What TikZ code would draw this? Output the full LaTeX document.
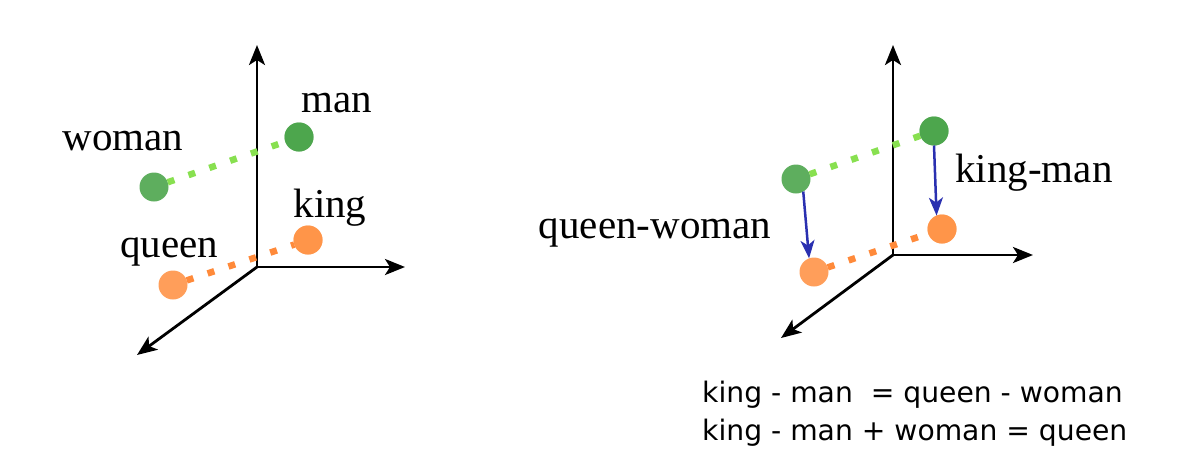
\documentclass[tikz,border=0pt]{standalone}
\usepackage{fontspec}
\setmainfont{Liberation Serif}
\newfontfamily\eqfont{DejaVu Sans}
\usetikzlibrary{arrows.meta}
\definecolor{dotgreen}{HTML}{4CA54C}
\definecolor{linegreen}{HTML}{88E050}
\definecolor{dotorange}{HTML}{FF9448}
\definecolor{lineorange}{HTML}{FF8A3A}
\definecolor{vecblue}{HTML}{2A30B0}
\tikzset{
  axisline/.style={line width=2.8pt, -{Stealth[length=20pt,width=16pt,inset=5pt]}},
  gdot/.style={circle, fill=dotgreen, fill opacity=0.9, minimum size=29pt, inner sep=0pt, outer sep=0pt},
  odot/.style={circle, fill=dotorange, fill opacity=0.9, minimum size=29pt, inner sep=0pt, outer sep=0pt},
  gline/.style={draw=linegreen, line width=6.5pt, dash pattern=on 7pt off 15pt},
  oline/.style={draw=lineorange, line width=6.5pt, dash pattern=on 7pt off 15pt},
  vec/.style={draw=vecblue, line width=2.5pt, -{Stealth[length=18pt,width=14pt,inset=5pt]}},
  word/.style={font=\fontsize{41}{48}\selectfont, inner sep=0pt, anchor=base},
  eq/.style={font=\eqfont\fontsize{28.2}{38}\selectfont, inner sep=0pt, anchor=base west}
}
\begin{document}
\begin{tikzpicture}[x=1pt,y=-1pt]
\useasboundingbox (0,0) rectangle (1201,474);
% ---------- left diagram ----------
\coordinate (lo) at (257,267);
\coordinate (ly) at (257,45);
\coordinate (lx) at (405,267);
\coordinate (lz) at (137,355);
\draw[axisline] (lo) -- (ly);
\draw[axisline] (lo) -- (lx);
\draw[axisline] (lo) -- (lz);
\node[gdot] (man) at (299,137) {};
\node[gdot] (woman) at (154,187) {};
\node[odot] (king) at (308,240) {};
\node[odot] (queen) at (173,285) {};
\draw[gline] (woman) -- (man);
\draw[oline] (queen) -- (king);
\node[gdot] at (man) {};
\node[odot] at (king) {};
\node[word] (tman) at (337,112) {man};
\node[word] (twoman) at (123,150) {woman};
\node[word] (tking) at (330,217) {king};
\node[word] (tqueen) at (169,257) {queen};
% ---------- right diagram ----------
\coordinate (ro) at (893,255);
\coordinate (ry) at (893,45);
\coordinate (rx) at (1033,255);
\coordinate (rz) at (781,338);
\draw[axisline] (ro) -- (ry);
\draw[axisline] (ro) -- (rx);
\draw[axisline] (ro) -- (rz);
\node[gdot] (rw) at (796,179) {};
\node[gdot] (rm) at (934,131) {};
\node[odot] (rq) at (814,272) {};
\node[odot] (rk) at (942,229) {};
\draw[gline] (rw) -- (rm);
\draw[oline] (rq) -- (rk);
\node[gdot] at (rm) {};
\node[odot] at (rk) {};
\draw[vec] (rw.-60) -- (rq.110);
\draw[vec] (rm.-90) -- (rk.112);
\node[word] (tqw) at (655,238) {queen-woman};
\node[word] (tkm) at (1034,182) {king-man};
% ---------- equations ----------
\node[eq] (eq1) at (702,402) {king - man\ \ = queen - woman};
\node[eq] (eq2) at (702,440) {king - man + woman = queen};
\end{tikzpicture}
\end{document}
